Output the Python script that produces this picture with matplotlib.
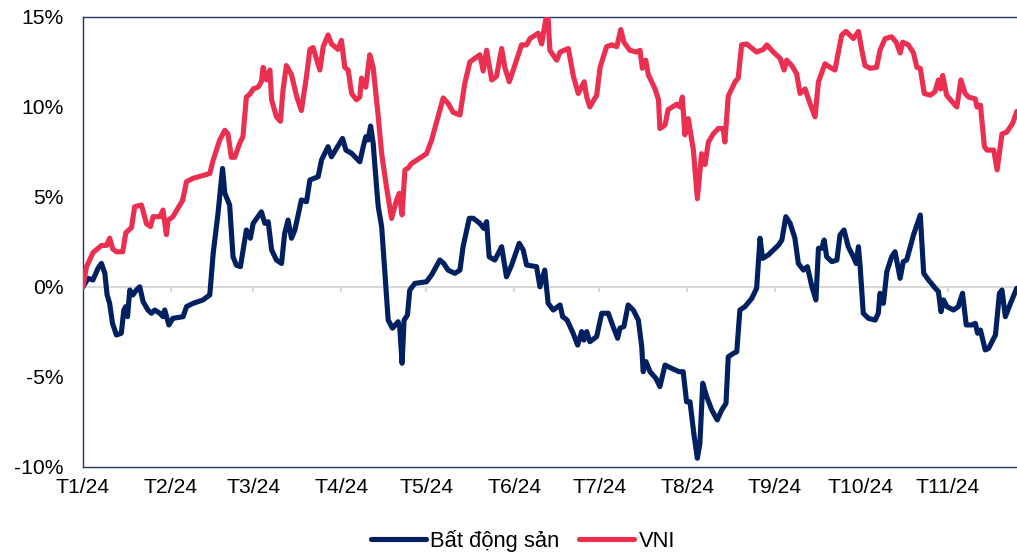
import matplotlib
matplotlib.use("Agg")
import matplotlib.pyplot as plt
import pandas as pd

plt.rcParams['font.family'] = ['Liberation Sans', 'DejaVu Sans']

# days since 2024-01-01 and % change
bds_days = [0, 1.8, 3.5, 5.3, 6.5, 7.7, 8.5, 9.4, 10.4, 11.8, 13.5, 14.4, 15.1, 15.7, 16.5, 17.6, 18.8, 20.0,
            21.2, 22.9, 24.1, 25.3, 27.1, 28.2, 28.8, 30.3, 31.7, 35.3, 36.5, 38.8, 42.3, 44.7, 45.9, 47.6,
            49.2, 50.0, 51.7, 52.9, 54.1, 55.5, 57.0, 57.6, 59.0, 60.0, 62.9, 64.1, 65.3, 66.5, 68.2, 70.0,
            71.1, 72.3, 73.5, 74.7, 77.0, 78.8, 80.0, 82.9, 84.1, 86.4, 87.6, 90.5, 91.5, 92.7, 94.7, 97.6,
            98.8, 99.7, 100.5, 101.4, 102.3, 103.5, 104.1, 105.3, 107.6, 109.1, 111.1, 111.7, 112.5, 113.2,
            114.4, 115.2, 117.0, 121.1, 122.9, 125.8, 127.2, 128.7, 131.1, 132.9, 134.0, 136.2, 137.6, 139.9,
            141.3, 142.3, 143.2, 145.2, 147.6, 149.3, 151.1, 153.8, 155.2, 156.4, 159.9, 161.1, 162.8, 164.0,
            165.8, 168.2, 169.1, 170.7, 172.8, 174.4, 175.8, 176.6, 177.6, 178.7, 181.1, 182.9, 185.2, 186.9,
            188.5, 189.3, 190.7, 192.2, 194.0, 195.8, 197.0, 197.5, 198.5, 199.9, 202.0, 203.4, 205.2, 207.5,
            210.2, 211.6, 212.8, 214.0, 215.5, 216.6, 217.5, 218.5, 219.9, 221.7, 223.6, 225.2, 226.7, 227.5,
            229.3, 230.5, 231.6, 233.4, 235.8, 237.5, 238.7, 239.6, 241.6, 245.2, 246.4, 247.8, 249.3, 251.0,
            252.2, 254.0, 255.4, 257.0, 258.4, 259.3, 260.5, 261.3, 262.2, 264.0, 265.8, 266.9, 268.3, 269.8,
            271.6, 272.6, 273.4, 274.0, 275.1, 276.9, 279.3, 280.4, 281.0, 282.2, 283.4, 285.1, 286.3, 288.1,
            289.2, 290.4, 292.8, 295.2, 296.4, 298.1, 300.5, 301.6, 302.5, 303.4, 304.6, 306.9, 308.6, 310.1,
            311.4, 313.4, 314.6, 315.4, 316.4, 318.1, 319.3, 321.7, 323.1, 324.0, 325.2, 327.0, 329.2]
bds_vals = [0.0, 0.47, 0.38, 1.03, 1.3, 0.75, -0.45, -0.92, -2.03, -2.68, -2.58, -1.29, -1.1, -1.66, -0.18, -0.45,
            -0.18, 0.0, -0.83, -1.29, -1.47, -1.29, -1.47, -1.66, -1.29, -2.12, -1.75, -1.66, -1.1, -0.92, -0.73,
            -0.45, 1.86, 4.08, 6.58, 5.2, 4.55, 1.67, 1.2, 1.12, 2.6, 3.16, 2.7, 3.53, 4.17, 3.53, 3.62, 2.05,
            1.49, 1.3, 2.97, 3.71, 2.7, 3.16, 4.83, 4.73, 5.94, 6.12, 7.05, 7.79, 7.23, 7.98, 8.25, 7.6, 7.42,
            6.95, 7.79, 8.34, 8.16, 8.94, 7.98, 5.56, 4.45, 3.34, -1.85, -2.3, -1.94, -2.3, -4.25, -1.85, -1.57,
            -0.18, 0.19, 0.28, 0.66, 1.49, 1.3, 0.93, 0.75, 0.93, 2.23, 3.81, 3.81, 3.53, 3.25, 3.62, 1.67, 1.49,
            2.23, 0.56, 1.2, 2.42, 2.05, 1.21, 1.12, 0.0, 0.93, -0.92, -1.29, -1.01, -1.66, -1.85, -2.58, -3.24,
            -2.49, -2.96, -2.49, -3.05, -2.77, -1.47, -1.47, -2.21, -2.86, -2.3, -2.21, -1.01, -1.29, -1.85,
            -3.33, -4.72, -4.16, -4.72, -5.09, -5.55, -4.35, -4.53, -4.72, -4.72, -6.39, -6.39, -8.33, -9.53,
            -8.7, -5.36, -6.11, -6.85, -7.4, -6.85, -6.48, -3.89, -3.7, -3.61, -1.29, -1.1, -0.64, -0.08, 2.7,
            1.58, 1.77, 2.32, 2.6, 3.9, 3.53, 2.7, 1.3, 0.93, 1.12, 0.0, -0.73, 2.14, 2.14, 2.6, 1.67, 1.4, 1.49,
            2.88, 3.16, 2.23, 1.67, 1.3, 2.23, 1.12, -1.47, -1.75, -1.85, -1.47, -0.36, -0.92, 0.84, 1.67, 1.95,
            0.47, 1.4, 1.49, 2.88, 3.99, 0.75, 0.38, -0.08, -0.27, -1.38, -0.73, -1.1, -1.29, -1.1, -0.36, -2.12,
            -2.12, -2.03, -2.58, -2.4, -3.51, -3.42, -2.68, -0.36, -0.18, -1.66, -0.92, -0.08]

vni_days = [0, 1.2, 3.5, 6.5, 8.3, 9.4, 10.5, 11.8, 14.0, 15.1, 17.1, 18.2, 20.6, 22.4, 23.8, 24.7, 27.1, 28.2,
            29.4, 30.0, 31.7, 35.1, 36.5, 38.8, 44.7, 45.9, 48.2, 50.0, 51.1, 52.3, 53.5, 55.3, 56.4, 57.6, 58.8,
            60.0, 61.7, 62.9, 63.5, 64.7, 65.9, 66.5, 68.2, 69.6, 70.5, 71.7, 73.5, 75.3, 77.0, 78.8, 80.0, 81.1,
            83.5, 84.7, 86.4, 87.6, 88.8, 89.9, 91.1, 92.3, 93.5, 94.7, 96.4, 97.6, 98.2, 99.7, 101.1, 102.3,
            104.1, 105.3, 107.0, 108.8, 110.5, 111.5, 112.5, 113.5, 114.6, 115.8, 121.1, 122.9, 127.0, 128.7,
            130.5, 132.9, 134.6, 136.4, 139.9, 141.1, 142.3, 144.1, 145.8, 147.6, 148.8, 150.3, 151.7, 154.6,
            156.4, 157.6, 160.5, 161.7, 163.2, 164.0, 164.6, 167.0, 168.2, 171.1, 172.9, 174.6, 176.7, 177.6,
            178.7, 181.1, 182.3, 184.6, 186.4, 188.2, 189.6, 190.7, 192.8, 195.2, 196.4, 197.2, 198.4, 199.3,
            201.7, 202.9, 203.4, 205.2, 206.3, 209.3, 210.5, 211.3, 212.2, 213.4, 215.2, 216.6, 218.1, 219.3,
            220.5, 222.2, 224.0, 225.7, 226.3, 227.5, 229.9, 231.0, 232.2, 234.0, 237.5, 239.9, 241.1, 243.4,
            245.8, 247.2, 248.1, 249.9, 251.6, 252.8, 254.6, 256.3, 258.1, 259.3, 261.6, 263.4, 265.1, 267.5,
            269.0, 271.6, 273.4, 274.6, 275.7, 277.5, 279.8, 281.0, 282.8, 285.1, 286.7, 288.1, 289.0, 291.0,
            292.8, 294.0, 295.2, 296.6, 298.7, 300.4, 301.6, 302.4, 303.1, 304.5, 306.9, 308.1, 309.5, 311.0,
            312.2, 314.6, 315.2, 316.4, 317.8, 318.7, 321.1, 322.3, 324.0, 325.7, 327.8, 329.2]
vni_vals = [0.0, 1.1, 1.9, 2.3, 2.3, 2.7, 2.1, 1.95, 1.95, 3.0, 3.3, 4.45, 4.55, 3.5, 3.35, 3.9, 3.9, 4.27, 2.9,
            3.7, 3.9, 4.8, 5.85, 6.03, 6.3, 7.05, 8.16, 8.7, 8.5, 7.2, 7.2, 8.0, 8.35, 10.55, 10.7, 11.0, 11.1,
            11.4, 12.2, 11.5, 12.05, 10.4, 9.45, 9.2, 10.9, 12.3, 11.8, 10.6, 9.8, 11.7, 13.2, 13.3, 12.05, 13.35,
            14.0, 13.5, 13.35, 13.2, 13.7, 12.2, 12.05, 10.75, 10.4, 10.55, 11.6, 11.1, 12.9, 12.2, 9.45, 7.4,
            5.55, 3.8, 4.8, 5.2, 4.0, 6.5, 6.6, 6.85, 7.4, 8.15, 10.5, 10.2, 9.7, 9.55, 11.3, 12.5, 12.9, 12.0,
            13.15, 11.5, 11.7, 13.25, 12.15, 11.4, 12.05, 13.45, 13.45, 13.8, 14.1, 13.5, 14.9, 14.9, 13.15,
            12.6, 13.05, 13.25, 11.7, 10.75, 11.4, 10.55, 10.0, 10.65, 12.2, 13.35, 13.45, 13.35, 14.3, 13.6,
            13.15, 13.05, 13.15, 12.15, 12.6, 11.8, 11.0, 10.4, 8.8, 9.0, 9.85, 10.15, 10.0, 10.55, 8.45, 9.35,
            7.6, 4.9, 7.4, 6.8, 8.05, 8.5, 8.8, 8.8, 8.05, 10.6, 11.4, 11.6, 13.45, 13.5, 13.05, 13.2, 13.45,
            13.05, 12.7, 12.05, 12.6, 12.3, 11.85, 10.75, 11.0, 10.2, 9.45, 11.4, 12.4, 12.2, 12.05, 14.0, 14.2,
            13.8, 14.2, 13.15, 12.3, 12.15, 12.2, 13.15, 13.8, 13.9, 13.6, 13.0, 13.6, 13.45, 13.0, 12.2, 12.15,
            10.75, 10.65, 10.85, 11.5, 11.0, 11.75, 10.65, 10.2, 10.0, 11.5, 10.75, 10.55, 10.45, 10.0, 10.1,
            7.8, 7.6, 7.6, 6.5, 8.5, 8.6, 9.1, 9.75]

month_labels = ["T1/24", "T2/24", "T3/24", "T4/24", "T5/24", "T6/24", "T7/24", "T8/24", "T9/24", "T10/24", "T11/24"]
y_ticks = [-10, -5, 0, 5, 10, 15]
y_labels = ["-10%", "-5%", "0%", "5%", "10%", "15%"]

start = pd.Timestamp("2024-01-01")
bds_dates = start + pd.to_timedelta(bds_days, unit="D")
vni_dates = start + pd.to_timedelta(vni_days, unit="D")
month_starts = pd.date_range("2024-01-01", periods=len(month_labels), freq="MS")

NAVY = "#002060"
RED = "#EA2F50"
FRAME = "#1F3864"

fig = plt.figure(figsize=(10.17, 5.53), dpi=100)
ax = fig.add_axes([83/1017, 1 - 466.7/553, 1 - 83/1017, (466.7 - 17)/553])

ax.axhline(0, color="#D9D9D9", lw=1.5, zorder=1)
ax.vlines(month_starts, -0.3, 0, color="#D9D9D9", lw=1.5, zorder=1)

ax.plot(bds_dates, bds_vals, color=NAVY, lw=3.7, solid_joinstyle="round", solid_capstyle="round",
        label="Bất động sản", zorder=3)
ax.plot(vni_dates, vni_vals, color=RED, lw=3.7, solid_joinstyle="round", solid_capstyle="round",
        label="VNI", zorder=4)

ax.set_xlim(start, start + pd.Timedelta(days=329.3))
ax.set_ylim(-10, 15)
ax.set_yticks(y_ticks)
ax.set_yticklabels(y_labels)
ax.set_xticks(month_starts)
ax.set_xticklabels(month_labels)
ax.tick_params(axis="both", length=0, labelsize=15.2, colors="black")
ax.tick_params(axis="y", pad=14)
ax.tick_params(axis="x", pad=8)

for s in ["left", "top", "bottom"]:
    ax.spines[s].set_color(FRAME)
    ax.spines[s].set_linewidth(1.0)
ax.spines["right"].set_visible(False)

fig.legend(loc="center", bbox_to_anchor=(523/1017, 1 - 541/553), ncol=2, frameon=False,
           fontsize=15.8, handlelength=2.5, handletextpad=0.2, columnspacing=0.9)

fig.savefig("out.png", dpi=100)
